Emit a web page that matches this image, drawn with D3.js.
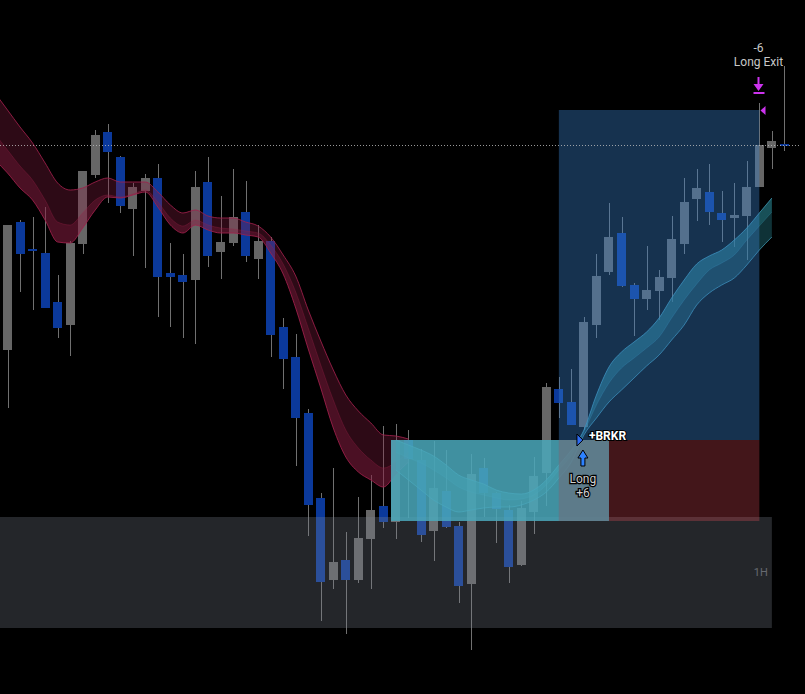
<!DOCTYPE html>
<html>
<head>
<meta charset="utf-8">
<script src="https://cdn.jsdelivr.net/npm/d3@7"></script>
<style>
  body { margin: 0; background: #000; }
  svg { display: block; font-family: Roboto, "Noto Sans", sans-serif; }
</style>
</head>
<body>
<div id="chart"></div>
<script>
// OHLC per hourly bar (price points)
const opens  = [350,478,451,447,398,375,456,525,568,543,491,509,522,427,425,420,518,448,457,488,441,459,373,343,287,202,120,140,120,161,194,178,260,240,169,209,174,116,232,207,190,135,188,227,311,298,273,375,428,467,415,401,409,422,456,501,508,487,482,484,513,552,556];
const highs  = [475,480,483,493,425,459,529,570,576,544,517,526,536,457,446,529,543,504,531,519,475,463,382,366,291,207,232,168,203,225,274,276,270,251,259,250,178,246,242,208,195,199,243,317,323,331,383,446,497,483,417,454,430,484,522,531,536,509,517,539,597,569,634];
const lows   = [292,408,390,392,362,344,446,522,497,487,444,432,383,373,362,356,433,421,454,438,421,343,311,234,164,79,111,66,117,111,172,161,182,158,139,172,97,50,183,157,117,134,166,194,282,275,270,362,425,413,364,390,380,398,446,479,475,458,453,440,513,531,549];
const closes = [475,446,449,392,372,457,529,565,548,494,513,522,423,423,418,513,444,458,483,444,459,365,341,282,195,118,138,120,162,190,178,260,241,165,212,173,114,226,207,191,133,192,224,313,297,275,378,424,463,414,401,410,423,461,498,512,488,480,485,513,555,559,554];

// bearish ribbon (starts one bar before the first visible bar)
const redStart = -1;
const redUpper = [607,590,573,557,537,517,510,512,518,522,518,518,518,508,495,487,490,484,482,482,478,474,463,445,424,390,359,330,305,289,277,265,264,261];
const redMid   = [566,550,534,520,500,478,475,487,500,505,503,506,510,498,482,474,480,475,472,471,469,467,455,436,408,372,335,300,270,252,240,232,238,248];
const redLower = [540,527,512,500,480,458,457,472,490,503,502,505,508,493,475,467,475,470,467,467,465,463,447,426,392,351,312,272,243,228,220,213,226,238];

// bullish ribbon
const tealStart = 31;
const tealUpper = [260,255,250,244,235,225,220,216,210,207,206,210,220,235,250,270,305,333,348,358,368,382,402,420,436,444,450,460,472,487,502];
const tealMid   = [248,242,237,230,222,213,208,205,202,200,201,205,215,230,245,268,295,317,332,342,352,363,382,400,416,430,437,445,460,474,488];
const tealLower = [230,220,210,200,193,188,190,192,193,193,195,200,208,222,238,265,282,298,310,322,334,345,360,375,395,407,415,422,435,450,463];

// zones
const breakoutBox = { from: 31, to: 48, top: 260, bottom: 179 };
const entryZone   = { from: 44, to: 48, top: 260, bottom: 179 };
const targetZone  = { from: 44, to: 60, top: 590, bottom: 260 };
const stopZone    = { from: 44, to: 60, top: 260, bottom: 179 };
const sessionBox  = { from: 0, to: 61, top: 183, bottom: 72 };
const lastLevel = 555;

const entryBar = 46, exitBar = 60;

const width = 805, height = 694;
const bodyW = 9;

const svg = d3.select("#chart").append("svg")
  .attr("width", width)
  .attr("height", height);

svg.append("rect").attr("width", width).attr("height", height).attr("fill", "#000");

const x = d3.scaleLinear().domain([0, 62]).range([7.5, 784.4]);
const y = d3.scaleLinear().domain([0, 700]).range([700, 0]);

const bars = opens.map((o, i) => ({ i, o, h: highs[i], l: lows[i], c: closes[i] }));

// candles
const candles = svg.append("g");
candles.selectAll(".wick")
  .data(bars)
  .enter().append("line")
  .attr("class", "wick")
  .attr("x1", d => Math.round(x(d.i)) + 0.5)
  .attr("x2", d => Math.round(x(d.i)) + 0.5)
  .attr("y1", d => y(d.h))
  .attr("y2", d => y(d.l))
  .attr("stroke", "#707070")
  .attr("stroke-width", 1);

candles.selectAll(".body")
  .data(bars)
  .enter().append("rect")
  .attr("class", "body")
  .attr("x", d => Math.round(x(d.i) - bodyW / 2))
  .attr("width", bodyW)
  .attr("y", d => y(Math.max(d.o, d.c)))
  .attr("height", d => Math.max(2, Math.abs(y(d.o) - y(d.c))))
  .attr("fill", d => d.c >= d.o ? "#666666" : "#0b399b");

// ribbons
function ribbon(start, upper, mid, lower, fill, stroke, midOnTop) {
  const g = svg.append("g");
  const pts = upper.map((u, k) => ({ i: start + k, u, m: mid[k], l: lower[k] }));
  const curve = d3.curveMonotoneX;
  g.append("path").datum(pts)
    .attr("d", d3.area().curve(curve).x(d => x(d.i)).y0(d => y(d.u)).y1(d => y(d.l)))
    .attr("fill", fill);
  g.append("path").datum(pts)
    .attr("d", d3.area().curve(curve).x(d => x(d.i))
      .y0(d => y(midOnTop ? d.u : d.m)).y1(d => y(midOnTop ? d.m : d.l)))
    .attr("fill", fill);
  ["u", "l"].forEach(k => {
    g.append("path").datum(pts)
      .attr("d", d3.line().curve(curve).x(d => x(d.i)).y(d => y(d[k])))
      .attr("fill", "none")
      .attr("stroke", stroke)
      .attr("stroke-width", 1);
  });
  g.append("path").datum(pts)
    .attr("d", d3.line().curve(curve).x(d => x(d.i)).y(d => y(d.m)))
    .attr("fill", "none")
    .attr("stroke", stroke)
    .attr("stroke-opacity", 0.35)
    .attr("stroke-width", 1);
}
ribbon(redStart, redUpper, redMid, redLower, "rgba(136,30,67,0.33)", "rgba(160,32,75,0.85)", false);
ribbon(tealStart, tealUpper, tealMid, tealLower, "rgba(38,125,138,0.4)", "rgba(70,165,195,0.7)", true);

// zones
function zone(z, fill, x0, x1) {
  const left = x0 !== undefined ? x0 : x(z.from);
  const right = x1 !== undefined ? x1 : x(z.to);
  svg.append("rect")
    .attr("x", left)
    .attr("y", y(z.top))
    .attr("width", right - left)
    .attr("height", y(z.bottom) - y(z.top))
    .attr("fill", fill);
}
zone(sessionBox, "rgba(130,135,150,0.28)", 0);
zone(breakoutBox, "rgba(74,168,186,0.86)", Math.round(x(breakoutBox.from) - bodyW / 2));
zone(stopZone, "rgba(231,76,90,0.29)");
zone(entryZone, "rgba(80,124,138,0.6)");
zone(targetZone, "rgba(56,128,203,0.39)");

// last price level
svg.append("line")
  .attr("x1", 0).attr("x2", 800)
  .attr("y1", Math.round(y(lastLevel)) + 0.5).attr("y2", Math.round(y(lastLevel)) + 0.5)
  .attr("stroke", "rgba(190,190,190,0.8)")
  .attr("stroke-dasharray", "1,2");

// timeframe label
svg.append("text")
  .attr("x", x(sessionBox.to) - 4).attr("y", y(sessionBox.bottom) - 52)
  .attr("text-anchor", "end")
  .attr("font-size", 11)
  .attr("fill", "#676a71")
  .text("1H");

// entry markers
const ex = x(entryBar);
const ey = y(targetZone.bottom);
svg.append("path")
  .attr("d", `M${ex - 7},${ey - 6}L${ex - 1},${ey}L${ex - 7},${ey + 6}Z`)
  .attr("fill", "#2f6cf2").attr("stroke", "#000").attr("stroke-width", 1);
svg.append("text")
  .attr("x", ex + 5).attr("y", ey)
  .attr("font-size", 12).attr("font-weight", "bold")
  .attr("fill", "#fff")
  .attr("stroke", "#000").attr("stroke-width", 2).attr("paint-order", "stroke")
  .text("+BRKR");
svg.append("path")
  .attr("d", `M${ex - 1},${ey + 10}L${ex + 4},${ey + 18}L${ex + 1},${ey + 18}L${ex + 1},${ey + 26}L${ex - 3},${ey + 26}L${ex - 3},${ey + 18}L${ex - 6},${ey + 18}Z`)
  .attr("fill", "#2d82ff").attr("stroke", "#000").attr("stroke-width", 1);
[["Long", 43], ["+6", 57]].forEach(([t, dy]) => {
  svg.append("text")
    .attr("x", ex - 1).attr("y", ey + dy)
    .attr("text-anchor", "middle")
    .attr("font-size", 12)
    .attr("fill", "#d0d0d0")
    .attr("stroke", "#000").attr("stroke-width", 2.5).attr("paint-order", "stroke")
    .text(t);
});

// exit markers
const xx = Math.round(x(exitBar)) - 0.5;
const hy = y(highs[exitBar]);
svg.append("path")
  .attr("d", `M${xx - 1},${hy - 26}L${xx + 1},${hy - 26}L${xx + 1},${hy - 19}L${xx + 5},${hy - 19}L${xx},${hy - 12}L${xx - 5},${hy - 19}L${xx - 1},${hy - 19}Z`)
  .attr("fill", "#cc33ee");
svg.append("rect")
  .attr("x", xx - 5).attr("y", hy - 11).attr("width", 11).attr("height", 2)
  .attr("fill", "#cc33ee");
const ty = y(targetZone.top);
svg.append("path")
  .attr("d", `M${xx + 2},${ty + 0.5}L${xx + 7},${ty - 4}L${xx + 7},${ty + 5}Z`)
  .attr("fill", "#cc33ee");
[["-6", hy - 51], ["Long Exit", hy - 37]].forEach(([t, yy]) => {
  svg.append("text")
    .attr("x", xx).attr("y", yy)
    .attr("text-anchor", "middle")
    .attr("font-size", 12)
    .attr("fill", "#c8c8c8")
    .text(t);
});
</script>
</body>
</html>
